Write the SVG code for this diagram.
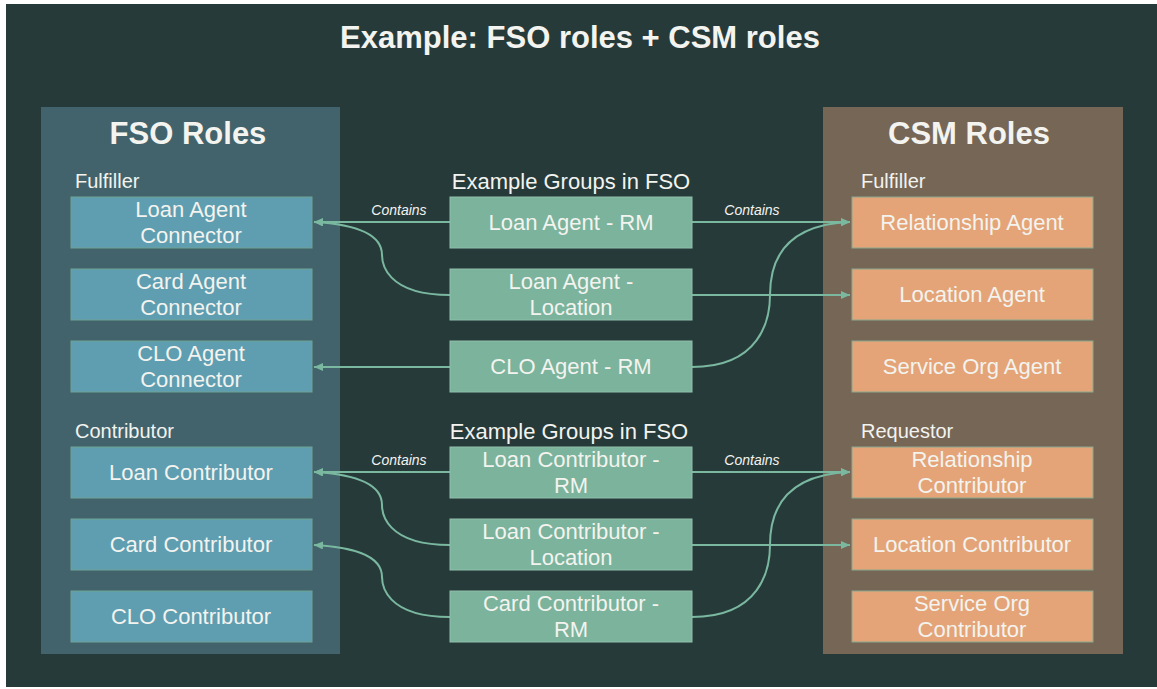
<svg xmlns="http://www.w3.org/2000/svg" width="1157" height="689" viewBox="0 0 1157 689">
<defs>
<style>
text{font-family:"Liberation Sans",Arial,sans-serif;fill:#f3f3ef}
.title{font-size:31px;font-weight:bold;text-anchor:middle}
.ptitle{font-size:31px;font-weight:bold;text-anchor:middle}
.sub{font-size:20px}
.hdr{font-size:22px;text-anchor:middle}
.nt{font-size:22px;text-anchor:middle}
.lbl{font-size:14px;font-style:italic;text-anchor:middle}
.fso{fill:#5f9eb0;stroke:#6fa394;stroke-width:1}
.grp{fill:#7bb39c;stroke:#8fc0aa;stroke-width:1}
.csm{fill:#e4a477;stroke:#8aa88f;stroke-width:1}
.con{fill:none;stroke:#7ab8a0;stroke-width:2}
</style>
<marker id="ah" markerUnits="userSpaceOnUse" markerWidth="10" markerHeight="9" refX="9" refY="4" orient="auto">
<path d="M0,0 L9,4 L0,8 z" fill="#7ab8a0"/>
</marker>
</defs>
<rect x="0" y="0" width="1157" height="689" fill="#ffffff"/>
<rect x="6" y="4" width="1151" height="683" fill="#273a3a"/>
<text class="title" x="580" y="48">Example: FSO roles + CSM roles</text>

<g id="fso-panel">
<rect x="41" y="107" width="299" height="547" fill="#42636c"/>
<text class="ptitle" x="188" y="144">FSO Roles</text>
<text class="sub" x="75" y="188">Fulfiller</text>
<text class="sub" x="75" y="438">Contributor</text>
</g>
<g id="csm-panel">
<rect x="823" y="107" width="300" height="547" fill="#766656"/>
<text class="ptitle" x="969" y="144">CSM Roles</text>
<text class="sub" x="861" y="188">Fulfiller</text>
<text class="sub" x="861" y="438">Requestor</text>
</g>
<g id="mid-headers">
<text class="hdr" x="571" y="189">Example Groups in FSO</text>
<text class="hdr" x="569" y="439">Example Groups in FSO</text>
</g>

<g id="connectors">
<path class="con" d="M450,222 H314" marker-end="url(#ah)"/>
<path class="con" d="M450,295 C385,295 382,262 382,255 C382,232 350,224 314,222" marker-end="url(#ah)"/>
<path class="con" d="M450,367 H314" marker-end="url(#ah)"/>
<path class="con" d="M692,222 H850" marker-end="url(#ah)"/>
<path class="con" d="M692,295 H850" marker-end="url(#ah)"/>
<path class="con" d="M692,367 C760,367 770,320 770,295 C770,245 800,224 850,222" marker-end="url(#ah)"/>
<path class="con" d="M450,472 H314" marker-end="url(#ah)"/>
<path class="con" d="M450,545 C385,545 382,512 382,505 C382,482 350,474 314,472" marker-end="url(#ah)"/>
<path class="con" d="M450,617 C385,617 382,584 382,577 C382,554 350,547 314,545" marker-end="url(#ah)"/>
<path class="con" d="M692,472 H850" marker-end="url(#ah)"/>
<path class="con" d="M692,545 H850" marker-end="url(#ah)"/>
<path class="con" d="M692,617 C760,617 770,570 770,545 C770,495 800,474 850,472" marker-end="url(#ah)"/>
<text class="lbl" x="399" y="215">Contains</text>
<text class="lbl" x="752" y="215">Contains</text>
<text class="lbl" x="399" y="465">Contains</text>
<text class="lbl" x="752" y="465">Contains</text>
</g>

<g id="loan-agent-connector"><rect class="fso" x="71" y="197" width="241" height="51"/><text class="nt" x="191" y="217">Loan Agent</text><text class="nt" x="191" y="243">Connector</text></g>
<g id="card-agent-connector"><rect class="fso" x="71" y="269" width="241" height="51"/><text class="nt" x="191" y="289">Card Agent</text><text class="nt" x="191" y="315">Connector</text></g>
<g id="clo-agent-connector"><rect class="fso" x="71" y="341" width="241" height="51"/><text class="nt" x="191" y="361">CLO Agent</text><text class="nt" x="191" y="387">Connector</text></g>
<g id="loan-contributor"><rect class="fso" x="71" y="447" width="241" height="51"/><text class="nt" x="191" y="480">Loan Contributor</text></g>
<g id="card-contributor"><rect class="fso" x="71" y="519" width="241" height="51"/><text class="nt" x="191" y="552">Card Contributor</text></g>
<g id="clo-contributor"><rect class="fso" x="71" y="591" width="241" height="51"/><text class="nt" x="191" y="624">CLO Contributor</text></g>

<g id="grp-loan-agent-rm"><rect class="grp" x="450" y="197" width="242" height="51"/><text class="nt" x="571" y="230">Loan Agent - RM</text></g>
<g id="grp-loan-agent-location"><rect class="grp" x="450" y="269" width="242" height="51"/><text class="nt" x="571" y="289">Loan Agent -</text><text class="nt" x="571" y="315">Location</text></g>
<g id="grp-clo-agent-rm"><rect class="grp" x="450" y="341" width="242" height="51"/><text class="nt" x="571" y="374">CLO Agent - RM</text></g>
<g id="grp-loan-contributor-rm"><rect class="grp" x="450" y="447" width="242" height="51"/><text class="nt" x="571" y="467">Loan Contributor -</text><text class="nt" x="571" y="493">RM</text></g>
<g id="grp-loan-contributor-location"><rect class="grp" x="450" y="519" width="242" height="51"/><text class="nt" x="571" y="539">Loan Contributor -</text><text class="nt" x="571" y="565">Location</text></g>
<g id="grp-card-contributor-rm"><rect class="grp" x="450" y="591" width="242" height="51"/><text class="nt" x="571" y="611">Card Contributor -</text><text class="nt" x="571" y="637">RM</text></g>

<g id="relationship-agent"><rect class="csm" x="852" y="197" width="241" height="51"/><text class="nt" x="972" y="230">Relationship Agent</text></g>
<g id="location-agent"><rect class="csm" x="852" y="269" width="241" height="51"/><text class="nt" x="972" y="302">Location Agent</text></g>
<g id="service-org-agent"><rect class="csm" x="852" y="341" width="241" height="51"/><text class="nt" x="972" y="374">Service Org Agent</text></g>
<g id="relationship-contributor"><rect class="csm" x="852" y="447" width="241" height="51"/><text class="nt" x="972" y="467">Relationship</text><text class="nt" x="972" y="493">Contributor</text></g>
<g id="location-contributor"><rect class="csm" x="852" y="519" width="241" height="51"/><text class="nt" x="972" y="552">Location Contributor</text></g>
<g id="service-org-contributor"><rect class="csm" x="852" y="591" width="241" height="51"/><text class="nt" x="972" y="611">Service Org</text><text class="nt" x="972" y="637">Contributor</text></g>
</svg>
